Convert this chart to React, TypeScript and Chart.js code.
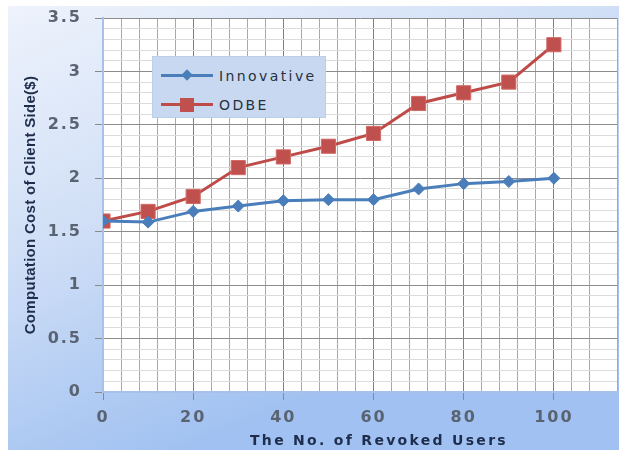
import React, { useEffect, useRef } from "react";
import { Chart, registerables } from "chart.js";

Chart.register(...registerables);

const revokedUsers = [0, 10, 20, 30, 40, 50, 60, 70, 80, 90, 100];
const innovativeCost = [1.6, 1.59, 1.69, 1.74, 1.79, 1.8, 1.8, 1.9, 1.95, 1.97, 2.0];
const odbeCost = [1.6, 1.69, 1.83, 2.1, 2.2, 2.3, 2.42, 2.7, 2.8, 2.9, 3.25];
const seriesNames = ["Innovative", "ODBE"];
const xTitle = "The No. of Revoked Users";
const yTitle = "Computation Cost of Client Side($)";

const BLUE = "#4a7ebb";
const RED = "#be4b48";

const isMult = (v: number, m: number) => Math.abs(v / m - Math.round(v / m)) < 1e-6;

// wrap a scale's text drawing so each part gets its own letter spacing / offset
function patchScale(s: any, labelSpacing: string, titleSpacing: string, titleDx: number) {
  if (s.__patched) return;
  s.__patched = true;
  const origLabels = s.drawLabels.bind(s);
  const origTitle = s.drawTitle.bind(s);
  s.drawLabels = (area: any) => {
    const ctx = s.ctx;
    const prev = ctx.letterSpacing;
    ctx.letterSpacing = labelSpacing;
    origLabels(area);
    ctx.letterSpacing = prev;
  };
  s.drawTitle = () => {
    const ctx = s.ctx;
    ctx.save();
    ctx.letterSpacing = titleSpacing;
    ctx.translate(titleDx, 0);
    origTitle();
    ctx.restore();
  };
}

const bgPlugin = {
  id: "bgPlugin",
  beforeDraw(chart: any) {
    const { ctx, width, height, chartArea } = chart;
    ctx.save();
    const g = ctx.createLinearGradient(0, 0, width * 0.3, height);
    g.addColorStop(0, "#eef3fc");
    g.addColorStop(0.5, "#cfdef6");
    g.addColorStop(1, "#a0c1f1");
    ctx.fillStyle = g;
    ctx.fillRect(0, 0, width, height);
    ctx.fillStyle = "#ffffff";
    ctx.fillRect(chartArea.left, chartArea.top, chartArea.right - chartArea.left, chartArea.bottom - chartArea.top);
    ctx.restore();
  },
};

function App() {
  const ref = useRef<HTMLCanvasElement | null>(null);
  useEffect(() => {
    if (!ref.current) return;
    const chart = new Chart(ref.current, {
      type: "line",
      data: {
        datasets: [
          {
            label: seriesNames[0],
            data: revokedUsers.map((x, i) => ({ x, y: innovativeCost[i] })),
            borderColor: BLUE,
            backgroundColor: BLUE,
            borderWidth: 3,
            pointStyle: "rectRot",
            pointRadius: 6,
            pointBorderWidth: 1,
            pointBorderColor: BLUE,
          },
          {
            label: seriesNames[1],
            data: revokedUsers.map((x, i) => ({ x, y: odbeCost[i] })),
            borderColor: RED,
            backgroundColor: "#c0504d",
            borderWidth: 3,
            pointStyle: "rect",
            pointRadius: 10,
            pointBorderWidth: 1,
            pointBorderColor: "#d06a66",
          },
        ],
      },
      options: {
        animation: false,
        responsive: false,
        maintainAspectRatio: false,
        layout: { autoPadding: false, padding: { top: 12, right: 2, left: 0, bottom: 0 } },
        plugins: { legend: { display: false }, tooltip: { enabled: false } },
        scales: {
          x: {
            type: "linear",
            min: 0,
            max: 114,
            afterFit: (s: any) => {
              s.height = 58;
              s.paddingLeft = 0;
              s.paddingRight = 0;
              s.paddingTop = 0;
              s.paddingBottom = 0;
              patchScale(s, "2px", "2.3px", 19);
            },
            border: { display: true, color: "#a7c1ea", width: 2 },
            grid: {
              color: (c: any) => (isMult(c.tick.value, 20) ? "#7f7f7f" : "#a9a9a9"),
              tickColor: (c: any) => (isMult(c.tick.value, 20) ? "#8a8a8a" : "rgba(0,0,0,0)"),
              tickLength: 8,
              lineWidth: 1,
            },
            ticks: {
              stepSize: 4,
              autoSkip: false,
              maxRotation: 0,
              padding: 8,
              color: "#5a6372",
              font: { family: "DejaVu Sans", weight: "bold", size: 16 },
              callback: (v: any) => (isMult(Number(v), 20) && Number(v) <= 100 ? String(v) : ""),
            },
            title: {
              display: true,
              text: xTitle,
              color: "#1f2d4d",
              font: { family: "DejaVu Sans", weight: "bold", size: 14 },
              padding: { top: 0, bottom: 0 },
            },
          },
          y: {
            min: 0,
            max: 3.5,
            afterFit: (s: any) => {
              s.width = 95;
              s.paddingLeft = 0;
              s.paddingRight = 0;
              s.paddingTop = 0;
              s.paddingBottom = 0;
              patchScale(s, "2px", "0.3px", 0);
            },
            border: { display: true, color: "#a7c1ea", width: 2 },
            grid: {
              color: (c: any) => (isMult(c.tick.value, 0.5) ? "#8c8c8c" : "#dcdcdc"),
              tickColor: (c: any) => (isMult(c.tick.value, 0.5) ? "#8a8a8a" : "rgba(0,0,0,0)"),
              tickLength: 8,
              lineWidth: 1,
            },
            ticks: {
              stepSize: 0.1,
              autoSkip: false,
              padding: 13,
              color: "#5a6372",
              font: { family: "DejaVu Sans", weight: "bold", size: 16 },
              callback: (v: any) => (isMult(Number(v), 0.5) ? String(Number(Number(v).toFixed(1))) : ""),
            },
            title: {
              display: true,
              text: yTitle,
              color: "#1f2d4d",
              font: { family: "'Liberation Sans Narrow', 'Liberation Sans'", weight: "bold", size: 15 },
              padding: { top: 14, bottom: 0 },
            },
          },
        },
      },
      plugins: [bgPlugin],
    });
    return () => chart.destroy();
  }, []);

  const legendRow = (name: string, color: string, marker: React.ReactNode) => (
    <div style={{ display: "flex", alignItems: "center", height: 29 }}>
      <div style={{ position: "relative", width: 52, height: 14, marginRight: 6 }}>
        <div style={{ position: "absolute", left: 0, right: 0, top: 5.5, height: 3, background: color }} />
        {marker}
      </div>
      <span style={{ fontFamily: "DejaVu Sans", fontSize: 14, letterSpacing: "2.4px", color: "#28313d" }}>
        {name}
      </span>
    </div>
  );

  return (
    <div style={{ position: "absolute", left: 8, top: 6, width: 611, height: 444 }}>
      <canvas ref={ref} width={611} height={444} style={{ width: 611, height: 444, display: "block" }} />
      <div
        style={{
          position: "absolute",
          left: 144,
          top: 50,
          width: 174,
          height: 62,
          background: "#c7d8f0",
          border: "1px solid #bccfe9",
          boxSizing: "border-box",
          padding: "4px 0 0 8px",
        }}
      >
        {legendRow(
          seriesNames[0],
          BLUE,
          <div style={{ position: "absolute", left: 22, top: 2.5, width: 8, height: 8, background: BLUE, transform: "rotate(45deg)" }} />
        )}
        {legendRow(
          seriesNames[1],
          RED,
          <div style={{ position: "absolute", left: 19, top: 0, width: 14, height: 14, background: "#c0504d" }} />
        )}
      </div>
    </div>
  );
}

export default App;
